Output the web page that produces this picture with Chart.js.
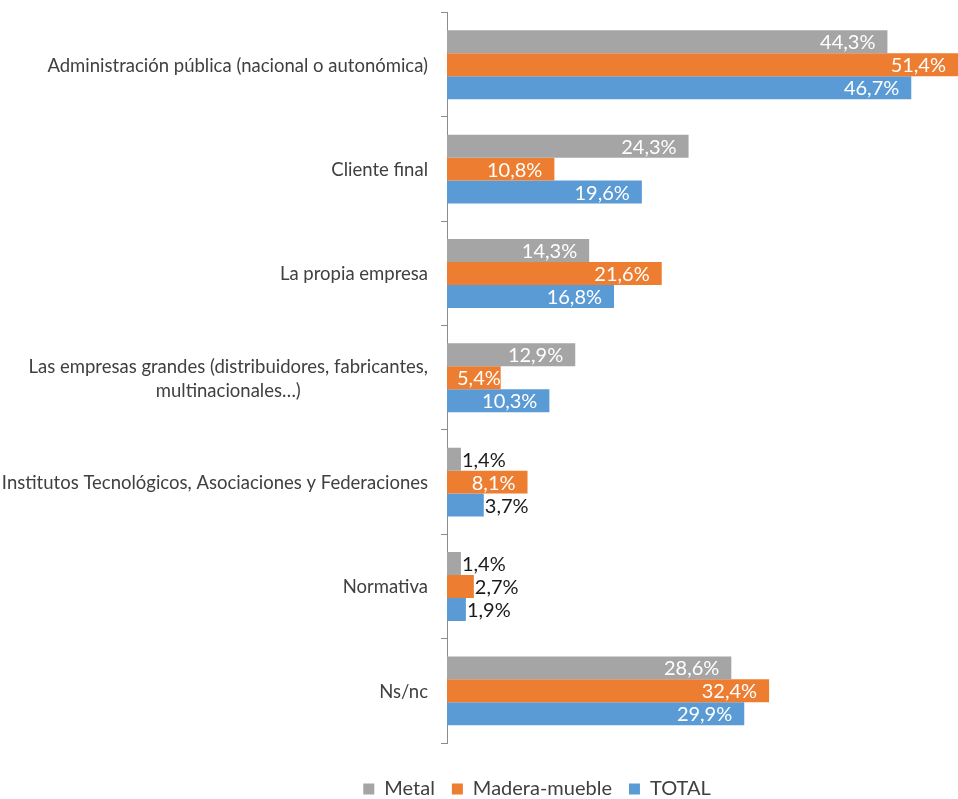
<!DOCTYPE html>
<html><head><meta charset="utf-8">
<script src="https://cdn.jsdelivr.net/npm/chart.js@4.4.0/dist/chart.umd.min.js"></script>
<style>html,body{margin:0;padding:0;background:#fff}#wrap{width:958px;height:799px}</style>
</head><body><div id="wrap"><canvas id="c" width="958" height="799"></canvas></div>
<script>
const categories = [
  "Administración pública (nacional o autonómica)",
  "Cliente final",
  "La propia empresa",
  ["Las empresas grandes (distribuidores, fabricantes,", "multinacionales…)"],
  "Institutos Tecnológicos, Asociaciones y Federaciones",
  "Normativa",
  "Ns/nc"
];
const seriesNames = ["Metal", "Madera-mueble", "TOTAL"];
const metal = [44.3, 24.3, 14.3, 12.9, 1.4, 1.4, 28.6];
const madera = [51.4, 10.8, 21.6, 5.4, 8.1, 2.7, 32.4];
const total = [46.7, 19.6, 16.8, 10.3, 3.7, 1.9, 29.9];
const colors = ["#A5A5A5", "#ED7D31", "#5B9BD5"];

const FONT = "Lato";
const fmt = v => v.toFixed(1).replace('.', ',') + '%';

const legendShift = {
  id: 'legendShift',
  afterLayout(chart) {
    if (chart.legend) { chart.legend.left += 58; chart.legend.right += 58; }
  }
};

const labelPlugin = {
  id: 'customLabels',
  afterDatasetsDraw(chart) {
    const ctx = chart.ctx;
    const xs = chart.scales.x;
    const base = xs.getPixelForValue(0);
    ctx.save();
    ctx.font = "20px " + FONT;
    ctx.textBaseline = 'middle';
    chart.data.datasets.forEach((ds, di) => {
      const meta = chart.getDatasetMeta(di);
      meta.data.forEach((bar, i) => {
        const v = ds.data[i];
        const t = fmt(v);
        const tw = ctx.measureText(t).width;
        const end = bar.x;
        const w = end - base;
        if (w > tw) {
          ctx.fillStyle = '#ffffff';
          ctx.textAlign = 'right';
          const x = Math.min(Math.max(end - 12, base + tw + 10), chart.chartArea.right - 12);
          ctx.fillText(t, x, bar.y + 1);
        } else {
          ctx.fillStyle = '#1a1a1a';
          ctx.textAlign = 'left';
          ctx.fillText(t, end + 1, bar.y + 1);
        }
      });
    });
    // category labels
    const ys = chart.scales.y;
    ctx.font = "18.5px " + FONT;
    ctx.fillStyle = '#404040';
    const right = base - 19;
    categories.forEach((c, i) => {
      const y = ys.getPixelForTick(i);
      if (Array.isArray(c)) {
        const lh = 24;
        const mw = Math.max(...c.map(s => ctx.measureText(s).width));
        ctx.textAlign = 'center';
        c.forEach((s, k) => ctx.fillText(s, right - mw / 2, y + 1 + (k - (c.length - 1) / 2) * lh));
      } else {
        ctx.textAlign = 'right';
        ctx.fillText(c, right, y + 1);
      }
    });
    ctx.restore();
  }
};

new Chart(document.getElementById('c'), {
  type: 'bar',
  data: {
    labels: categories,
    datasets: [
      { label: seriesNames[0], data: metal, backgroundColor: colors[0] },
      { label: seriesNames[1], data: madera, backgroundColor: colors[1] },
      { label: seriesNames[2], data: total, backgroundColor: colors[2] }
    ]
  },
  options: {
    indexAxis: 'y',
    responsive: false,
    animation: false,
    layout: { padding: { top: 12, right: 0, bottom: -10, left: 0 } },
    datasets: { bar: { barPercentage: 1, categoryPercentage: 0.66, borderWidth: 0 } },
    scales: {
      x: {
        display: true, min: 0, max: 51.4,
        grid: { display: false, drawTicks: false },
        border: { display: false },
        ticks: { display: false },
        afterFit(s) { s.height = 19; }
      },
      y: {
        afterFit(s) { s.width = 447; },
        border: { display: true, color: '#8c8c8c', width: 1 },
        grid: { offset: true, drawOnChartArea: false, drawTicks: true, tickLength: 6, color: '#8c8c8c' },
        ticks: { color: 'rgba(0,0,0,0)', font: { family: FONT, size: 16 } }
      }
    },
    plugins: {
      legend: {
        position: 'bottom',
        labels: { font: { family: FONT, size: 20 }, color: '#404040', boxWidth: 11, boxHeight: 11, padding: 17 }
      },
      tooltip: { enabled: false }
    }
  },
  plugins: [labelPlugin, legendShift]
});
</script>
</body></html>
